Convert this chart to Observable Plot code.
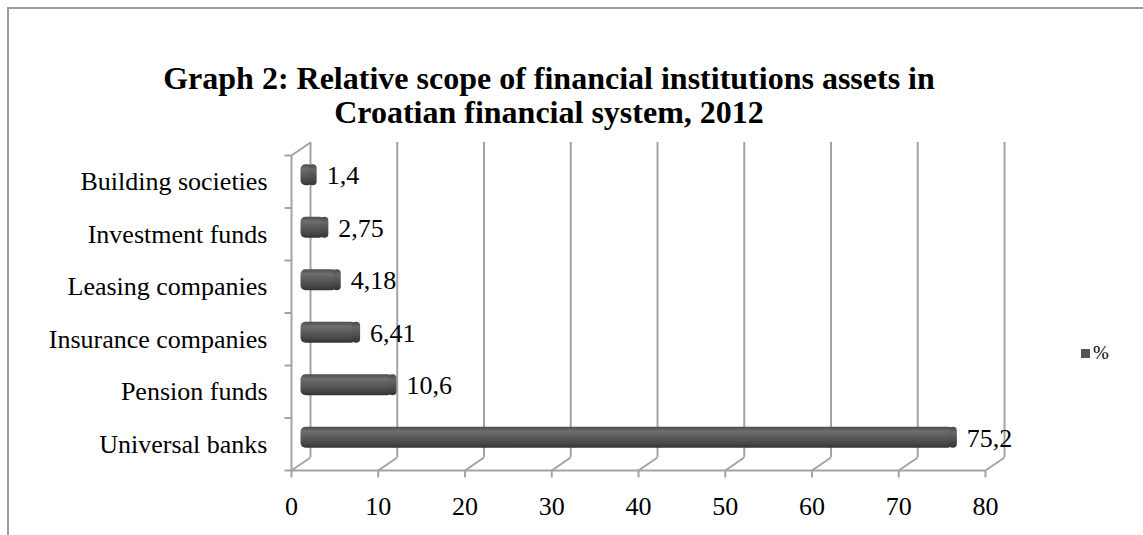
<!DOCTYPE html>
<html>
<head>
<meta charset="utf-8">
<script src="https://cdn.jsdelivr.net/npm/d3@7"></script>
<script src="https://cdn.jsdelivr.net/npm/@observablehq/plot@0.6"></script>
<style>
  html, body { margin: 0; padding: 0; background: #fff; width: 1143px; height: 535px; overflow: hidden; position: relative; }
  body { font-family: "Liberation Serif", "Times New Roman", serif; color: #000; }
  #frame { position: absolute; left: 7px; top: 7px; width: 1300px; height: 700px; border-left: 2px solid #9c9c9c; border-top: 2px solid #9c9c9c; }
  #title { position: absolute; left: 0; top: 61px; width: 1098px; text-align: center; font-weight: bold; font-size: 32px; line-height: 34px; }
  #chart { position: absolute; left: 0; top: 130px; }
  #legend { position: absolute; left: 1081px; top: 342px; font-size: 19px; display: flex; align-items: center; }
  #legend .sw { width: 9px; height: 9px; background: #555; margin-right: 3px; }
</style>
</head>
<body>
<div id="frame"></div>
<div id="title">Graph 2: Relative scope of financial institutions assets in<br>Croatian financial system, 2012</div>
<div id="chart"></div>
<div id="legend"><span class="sw"></span><span>%</span></div>
<script>
// Data (bottom to top, as drawn)
const categories = ["Universal banks", "Pension funds", "Insurance companies", "Leasing companies", "Investment funds", "Building societies"];
const values = [75.2, 10.6, 6.41, 4.18, 2.75, 1.4];
const valueLabels = ["75,2", "10,6", "6,41", "4,18", "2,75", "1,4"];
const xTicks = [0, 10, 20, 30, 40, 50, 60, 70, 80];
const seriesName = "%";

const rows = categories.map((c, i) => ({category: c, value: values[i], label: valueLabels[i], pos: i + 0.5}));
const bounds = d3.range(categories.length + 1);

// Layout
const W = 1143, H = 405;
const mL = 291, mR = 158, mT = 25, mB = 65;
const pxX = (W - mL - mR) / 80;
const pxY = (H - mT - mB) / categories.length;
const depthX = 19, depthY = 13;           // 3-D depth in pixels
const dU = depthX / pxX, dV = depthY / pxY; // depth in data units
const half = 10.5 / pxY;                   // half-thickness of a cylinder
const grid = "#a3a3a3";
const font = "Liberation Serif, Times New Roman, serif";

const plot = Plot.plot({
  width: W, height: H,
  marginLeft: mL, marginRight: mR, marginTop: mT, marginBottom: mB,
  x: {domain: [0, 80], axis: null},
  y: {domain: [0, categories.length], axis: null},
  style: {fontFamily: font, overflow: "visible", background: "transparent"},
  marks: [
    // back-wall gridlines
    Plot.ruleX(xTicks, {x: d => d, y1: 0, y2: categories.length, dx: depthX, dy: -depthY, stroke: grid, strokeWidth: 2}),
    // floor diagonals
    Plot.link(xTicks, {x1: d => d, y1: 0, x2: d => d + dU, y2: dV, stroke: grid, strokeWidth: 2}),
    // left wall: front edge and top diagonal
    Plot.ruleX([0], {y1: 0, y2: categories.length, stroke: grid, strokeWidth: 2}),
    Plot.link([0], {x1: 0, y1: categories.length, x2: dU, y2: categories.length + dV, stroke: grid, strokeWidth: 2}),
    // floor front edge
    Plot.ruleY([0], {x1: 0, x2: 80, stroke: grid, strokeWidth: 2}),
    // category ticks
    Plot.link(bounds, {x1: 0, x2: -7 / pxX, y1: d => d, y2: d => d, stroke: grid, strokeWidth: 2}),
    // x ticks
    Plot.link(xTicks, {x1: d => d, x2: d => d, y1: 0, y2: -7 / pxY, stroke: grid, strokeWidth: 2}),
    // cylinders
    Plot.rect(rows, {x1: 0, x2: "value", y1: d => d.pos - half, y2: d => d.pos + half, dx: depthX / 2, dy: -depthY / 2, fill: "url(#cyl)", rx: 5}),
    Plot.rect(rows, {x1: "value", x2: "value", y1: d => d.pos - half, y2: d => d.pos + half, insetLeft: -4, insetRight: -4, dx: depthX / 2, dy: -depthY / 2, fill: "url(#cap)", rx: 4}),
    // value labels
    Plot.text(rows, {x: "value", y: "pos", text: "label", textAnchor: "start", dx: 23, dy: -6, fontSize: 26, fill: "#000"}),
    // category labels
    Plot.text(rows, {x: 0, y: "pos", text: "category", textAnchor: "end", dx: -24, fontSize: 26, fill: "#000"}),
    // x tick labels
    Plot.text(xTicks, {x: d => d, y: 0, text: d => String(d), dy: 36, fontSize: 26, fill: "#000"})
  ]
});

// gradients for cylinder shading
const ns = "http://www.w3.org/2000/svg";
const defs = document.createElementNS(ns, "defs");
function grad(id, stops) {
  const g = document.createElementNS(ns, "linearGradient");
  g.setAttribute("id", id);
  g.setAttribute("x1", "0"); g.setAttribute("y1", "0"); g.setAttribute("x2", "0"); g.setAttribute("y2", "1");
  stops.forEach(([o, c]) => {
    const s = document.createElementNS(ns, "stop");
    s.setAttribute("offset", o); s.setAttribute("stop-color", c);
    g.appendChild(s);
  });
  defs.appendChild(g);
}
grad("cyl", [["0%", "#4c4c4c"], ["22%", "#6e6e6e"], ["45%", "#5e5e5e"], ["80%", "#474747"], ["100%", "#333333"]]);
grad("cap", [["0%", "#474747"], ["25%", "#666666"], ["60%", "#505050"], ["100%", "#333333"]]);
plot.insertBefore(defs, plot.firstChild);

document.getElementById("chart").appendChild(plot);
document.querySelector("#legend span:last-child").textContent = seriesName;
</script>
</body>
</html>
